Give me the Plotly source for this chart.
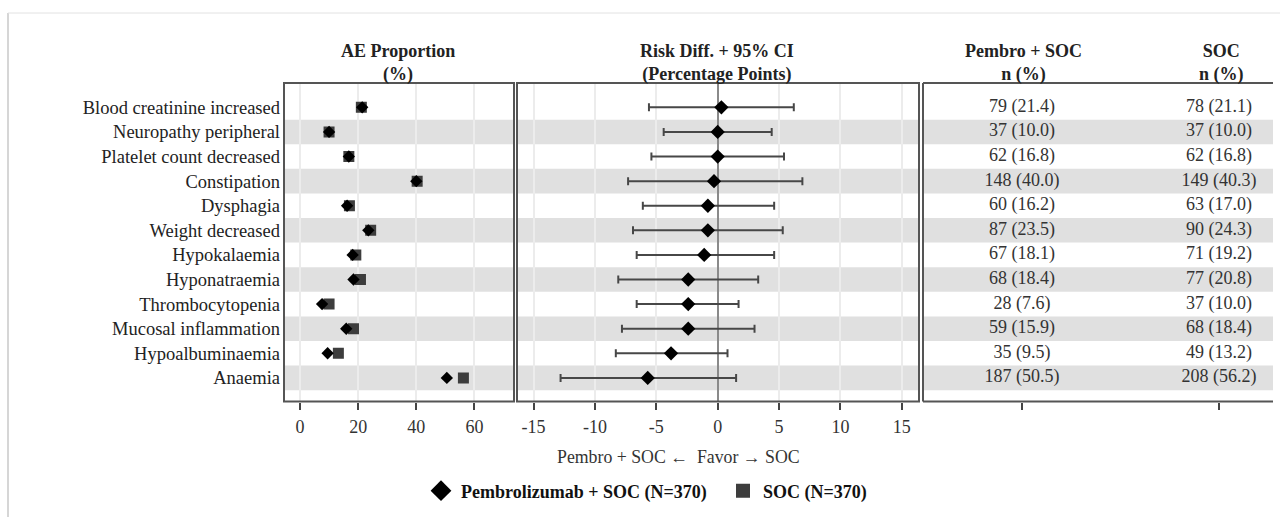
import plotly.graph_objects as go

categories = ["Blood creatinine increased", "Neuropathy peripheral", "Platelet count decreased",
              "Constipation", "Dysphagia", "Weight decreased", "Hypokalaemia", "Hyponatraemia",
              "Thrombocytopenia", "Mucosal inflammation", "Hypoalbuminaemia", "Anaemia"]
pembro_n = [79, 37, 62, 148, 60, 87, 67, 68, 28, 59, 35, 187]
pembro_pct = [21.4, 10.0, 16.8, 40.0, 16.2, 23.5, 18.1, 18.4, 7.6, 15.9, 9.5, 50.5]
soc_n = [78, 37, 62, 149, 63, 90, 71, 77, 37, 68, 49, 208]
soc_pct = [21.1, 10.0, 16.8, 40.3, 17.0, 24.3, 19.2, 20.8, 10.0, 18.4, 13.2, 56.2]
risk_diff = [0.3, 0.0, 0.0, -0.3, -0.8, -0.8, -1.1, -2.4, -2.4, -2.4, -3.8, -5.7]
ci_low = [-5.6, -4.4, -5.4, -7.3, -6.1, -6.9, -6.6, -8.1, -6.6, -7.8, -8.3, -12.8]
ci_high = [6.2, 4.4, 5.4, 6.9, 4.6, 5.3, 4.6, 3.3, 1.7, 3.0, 0.8, 1.5]
ae_ticks = [0, 20, 40, 60]
rd_ticks = [-15, -10, -5, 0, 5, 10, 15]
rd_ticktext = ["-15", "-10", "-5", "0", "5", "10", "15"]
legend_names = ["Pembrolizumab + SOC (N=370)", "SOC (N=370)"]

W, H = 1280, 517
SERIF = "Liberation Serif, Times New Roman, serif"

def px(x):
    return x / W

def py(y):
    return 1 - y / H

TOP, BOT = 83, 401.5
P1 = (284, 514)
P2 = (517, 919)
P3 = (923, 1273)

fig = go.Figure()

# Left panel: AE proportions
fig.add_trace(go.Scatter(x=soc_pct, y=categories, mode="markers", xaxis="x", yaxis="y",
                         marker=dict(symbol="square", size=11, color="#3d3d3d"),
                         showlegend=False, hoverinfo="skip"))
fig.add_trace(go.Scatter(x=pembro_pct, y=categories, mode="markers", xaxis="x", yaxis="y",
                         marker=dict(symbol="diamond", size=9.5, color="#000000"),
                         showlegend=False, hoverinfo="skip"))

# Middle panel: risk difference + CI
err_plus = [h - d for h, d in zip(ci_high, risk_diff)]
err_minus = [d - l for d, l in zip(risk_diff, ci_low)]
fig.add_trace(go.Scatter(x=risk_diff, y=categories, mode="markers", xaxis="x2", yaxis="y",
                         marker=dict(symbol="diamond", size=11, color="#000000"),
                         error_x=dict(type="data", symmetric=False, array=err_plus,
                                      arrayminus=err_minus, color="#474747",
                                      thickness=2, width=4),
                         showlegend=False, hoverinfo="skip"))

# Right panel: table text
col_pos = [0.283, 0.846]
fig.add_trace(go.Scatter(x=[col_pos[0]] * len(categories), y=categories, mode="text",
                         xaxis="x3", yaxis="y",
                         text=[f"{n} ({p:.1f})" for n, p in zip(pembro_n, pembro_pct)],
                         textposition="middle center",
                         textfont=dict(family=SERIF, size=18, color="#333333"),
                         showlegend=False, hoverinfo="skip"))
fig.add_trace(go.Scatter(x=[col_pos[1]] * len(categories), y=categories, mode="text",
                         xaxis="x3", yaxis="y",
                         text=[f"{n} ({p:.1f})" for n, p in zip(soc_n, soc_pct)],
                         textposition="middle center",
                         textfont=dict(family=SERIF, size=18, color="#333333"),
                         showlegend=False, hoverinfo="skip"))

# Legend-only traces
fig.add_trace(go.Scatter(x=[None], y=[None], mode="markers", name=f"<b>{legend_names[0]}</b>",
                         marker=dict(symbol="diamond", size=16, color="#000000")))
fig.add_trace(go.Scatter(x=[None], y=[None], mode="markers", name=f"<b>{legend_names[1]}</b>",
                         marker=dict(symbol="square", size=14, color="#3d3d3d")))

shapes = []
# shaded bands
for i in range(len(categories)):
    if i % 2 == 1:
        for (a, b) in (P1, P2, P3):
            shapes.append(dict(type="rect", xref="paper", yref="y", x0=px(a), x1=px(b),
                               y0=i - 0.5, y1=i + 0.5, fillcolor="#e0e0e0",
                               line=dict(width=0), layer="below"))
# panel borders
BC = "#555555"
for (a, b) in (P1, P2):
    shapes.append(dict(type="rect", xref="paper", yref="paper", x0=px(a), x1=px(b),
                       y0=py(BOT), y1=py(TOP), line=dict(color=BC, width=2), layer="above"))
shapes.append(dict(type="line", xref="paper", yref="paper", x0=px(P3[0]), x1=px(P3[0]),
                   y0=py(BOT), y1=py(TOP), line=dict(color=BC, width=2)))
shapes.append(dict(type="line", xref="paper", yref="paper", x0=px(P3[0]), x1=px(P3[1]),
                   y0=py(TOP), y1=py(TOP), line=dict(color=BC, width=2)))
shapes.append(dict(type="line", xref="paper", yref="paper", x0=px(P3[0]), x1=px(P3[1]),
                   y0=py(BOT), y1=py(BOT), line=dict(color=BC, width=2)))
# outer light frame
shapes.append(dict(type="line", xref="paper", yref="paper", x0=px(8), x1=px(8),
                   y0=0, y1=py(13), line=dict(color="#d6d6d6", width=2)))
shapes.append(dict(type="line", xref="paper", yref="paper", x0=px(8), x1=1,
                   y0=py(13), y1=py(13), line=dict(color="#e2e2e2", width=1)))

tickfont = dict(family=SERIF, size=18, color="#333333")
hdr_font = dict(family=SERIF, size=18, color="#222222")
annotations = [
    dict(text="<b>AE Proportion<br>(%)</b>", x=px(398), y=py(63), xref="paper", yref="paper",
         showarrow=False, xanchor="center", yanchor="middle", font=hdr_font),
    dict(text="<b>Risk Diff. + 95% CI<br>(Percentage Points)</b>", x=px(717), y=py(63),
         xref="paper", yref="paper", showarrow=False, xanchor="center", yanchor="middle",
         font=hdr_font),
    dict(text="<b>Pembro + SOC<br>n (%)</b>", x=px(1023), y=py(63), xref="paper", yref="paper",
         showarrow=False, xanchor="center", yanchor="middle", font=hdr_font),
    dict(text="<b>SOC<br>n (%)</b>", x=px(1221), y=py(63), xref="paper", yref="paper",
         showarrow=False, xanchor="center", yanchor="middle", font=hdr_font),
    dict(text="Pembro + SOC \u2190  Favor \u2192 SOC", x=px(678), y=py(457), xref="paper",
         yref="paper", showarrow=False, xanchor="center", yanchor="middle",
         font=dict(family=SERIF, size=17.8, color="#333333")),
]

fig.update_layout(
    width=W, height=H,
    margin=dict(l=0, r=0, t=0, b=0),
    paper_bgcolor="white", plot_bgcolor="rgba(0,0,0,0)",
    showlegend=True,
    legend=dict(orientation="h", x=px(421), y=py(491), xanchor="left", yanchor="middle",
                font=dict(family=SERIF, size=18, color="#111111"),
                bgcolor="rgba(0,0,0,0)", itemwidth=30, tracegroupgap=0,
                entrywidth=257, entrywidthmode="pixels"),
    xaxis=dict(domain=[px(P1[0]), px(P1[1])], range=[-5.5, 73.6], anchor="y",
               tickvals=ae_ticks, ticks="outside", ticklen=7, tickwidth=2, tickcolor="#444444",
               showgrid=True, gridcolor="#ececec", gridwidth=1.5, zeroline=False,
               showline=False, tickfont=tickfont, fixedrange=True, ticklabelstandoff=2),
    xaxis2=dict(domain=[px(P2[0]), px(P2[1])], range=[-16.35, 16.4], anchor="y",
                tickvals=rd_ticks, ticktext=rd_ticktext, ticks="outside", ticklen=7,
                tickwidth=2, tickcolor="#444444",
                showgrid=True, gridcolor="#ececec", gridwidth=1.5, zeroline=True,
                zerolinecolor="#8a8a8a", zerolinewidth=1.5, showline=False,
                tickfont=tickfont, fixedrange=True, ticklabelstandoff=2),
    xaxis3=dict(domain=[px(P3[0]), px(P3[1])], range=[0, 1], anchor="y",
                tickvals=col_pos, ticktext=["", ""], ticks="outside", ticklen=7, tickwidth=2,
                tickcolor="#444444", showgrid=False, zeroline=False, showline=False,
                fixedrange=True),
    yaxis=dict(domain=[py(BOT), py(TOP)], type="category", categoryorder="array",
               categoryarray=categories, range=[11.96, -0.99], anchor="x",
               showgrid=False, zeroline=False, showline=False, ticks="",
               ticklabelstandoff=3,
               tickfont=dict(family=SERIF, size=18.5, color="#222222"), fixedrange=True),
    shapes=shapes,
    annotations=annotations,
)

fig.write_html("out.html")
